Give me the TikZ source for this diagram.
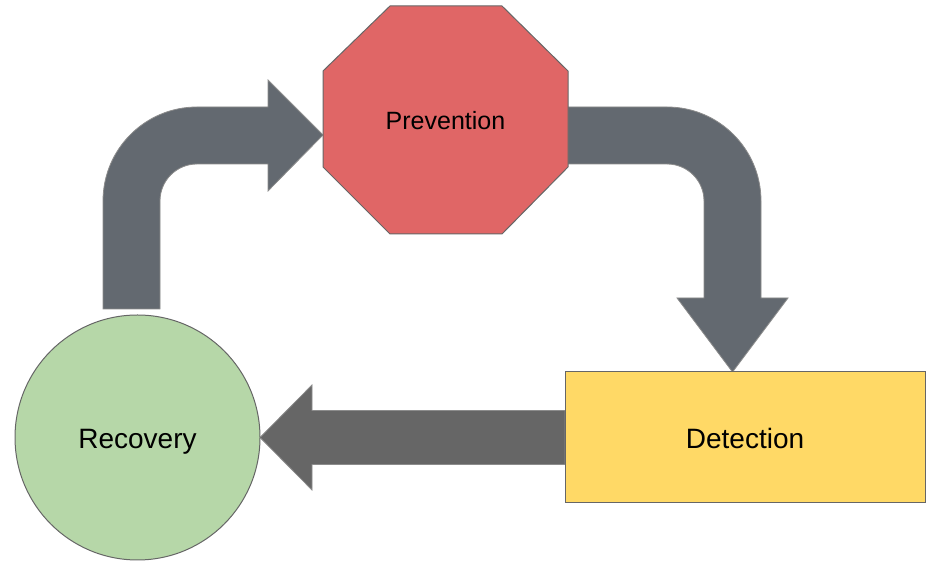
\documentclass[tikz,border=0pt]{standalone}
\usepackage{fontspec}
\setmainfont{Liberation Sans}
\definecolor{arrowfill}{HTML}{636970}
\definecolor{barfill}{HTML}{666666}
\definecolor{edgegray}{HTML}{666666}
\definecolor{arrowedge}{HTML}{8C8C8C}
\definecolor{redfill}{HTML}{E06666}
\definecolor{greenfill}{HTML}{B6D7A8}
\definecolor{yellowfill}{HTML}{FFD966}
\begin{document}
\begin{tikzpicture}[x=1pt, y=1pt]
    \tikzset{blockarrow/.style={draw=arrowedge, line width=0.8pt, line join=miter},
             stage/.style={draw=edgegray, line width=1pt, text=black},
             label/.style={font=\fontsize{28}{34}\selectfont, text depth=0pt}}
    \useasboundingbox (0,0) rectangle (926,564);
    \filldraw[blockarrow, fill=arrowfill] (103,255) -- (103,363) arc (180:90:94) -- (268,457) -- (268,484) -- (323,429) -- (268,373) -- (268,400) -- (197,400) arc (90:180:37) -- (160,255) -- cycle;
    \filldraw[blockarrow, fill=arrowfill] (568,457) -- (667,457) arc (90:0:94) -- (761,266) -- (788,266) -- (732.5,192) -- (677,266) -- (704,266) -- (704,363) arc (0:90:37) -- (568,400) -- cycle;
    \filldraw[blockarrow, fill=barfill] (565,153.5) -- (312,153.5) -- (312,179) -- (260,126.5) -- (312,74) -- (312,99.5) -- (565,99.5) -- cycle;
    \filldraw[stage, fill=redfill] (390,558) -- (502,558) -- (568,493) -- (568,397) -- (502,330) -- (390,330) -- (323,397) -- (323,493) -- cycle;
    \node [label, font=\fontsize{25}{30}\selectfont, text height=18.6pt] (prevention) at (445.5,444) {Prevention};
    \node [stage, label, circle, fill=greenfill, minimum size=245pt, inner sep=0pt, text height=21.6pt] (recovery) at (137.5,126.5) {Recovery};
    \node [stage, label, rectangle, fill=yellowfill, minimum width=360pt, minimum height=131pt, text height=21.6pt] (detection) at (745,126.5) {Detection};
\end{tikzpicture}
\end{document}
